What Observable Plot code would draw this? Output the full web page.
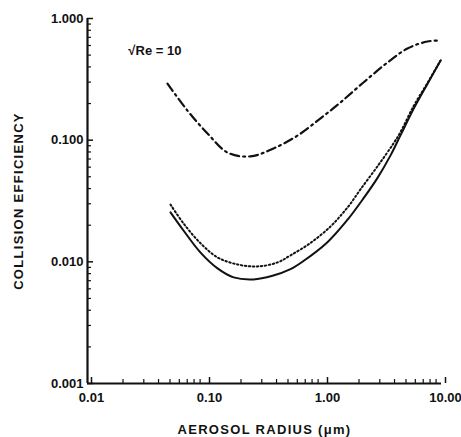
<!DOCTYPE html>
<html>
<head>
<meta charset="utf-8">
<script src="https://cdn.jsdelivr.net/npm/d3@7"></script>
<script src="https://cdn.jsdelivr.net/npm/@observablehq/plot@0.6"></script>
<style>
  html, body { margin: 0; padding: 0; background: #fff; }
  #chart svg { display: block; }
  #chart svg [aria-label="x-axis label"] text,
  #chart svg [aria-label="y-axis label"] text { letter-spacing: 1.3px; }
</style>
</head>
<body>
<div id="chart"></div>
<script>
// Dash-dot curve (√Re = 10)
const dashDotX = [0.0476, 0.0703, 0.104, 0.154, 0.24, 0.377, 0.602, 0.944, 1.39, 2.18, 3.49, 5.15, 7.6, 9.8];
const dashDotY = [0.292, 0.175, 0.1135, 0.079, 0.0735, 0.0855, 0.109, 0.151, 0.204, 0.298, 0.435, 0.567, 0.647, 0.66];
// Dotted curve
const dottedX = [0.0505, 0.0651, 0.0908, 0.1265, 0.1866, 0.276, 0.408, 0.525, 0.776, 1.146, 1.45, 1.69, 2.06, 2.87, 3.92, 4.5, 5.79, 7.6, 9.82];
const dottedY = [0.0296, 0.0207, 0.0142, 0.01087, 0.00952, 0.00917, 0.00989, 0.0113, 0.0143, 0.0195, 0.025, 0.03, 0.0395, 0.061, 0.094, 0.117, 0.19, 0.295, 0.452];
// Solid curve
const solidX = [0.0505, 0.0651, 0.0908, 0.1265, 0.173, 0.255, 0.37, 0.525, 0.676, 1.08, 1.6, 2.18, 2.87, 3.7, 4.5, 5.79, 7.6, 9.82];
const solidY = [0.0255, 0.0181, 0.0119, 0.00883, 0.00745, 0.00717, 0.00768, 0.0087, 0.01015, 0.0145, 0.0222, 0.0332, 0.049, 0.075, 0.11, 0.18, 0.29, 0.452];

const xTicks = [0.01, 0.1, 1, 10];
const yTicks = [0.001, 0.01, 0.1, 1];
const xMinor = [0.02,0.03,0.04,0.05,0.06,0.07,0.08,0.09,0.2,0.3,0.4,0.5,0.6,0.7,0.8,0.9,2,3,4,5,6,7,8,9];
const yMinor = [0.002,0.003,0.004,0.005,0.006,0.007,0.008,0.009,0.02,0.03,0.04,0.05,0.06,0.07,0.08,0.09,0.2,0.3,0.4,0.5,0.6,0.7,0.8,0.9];
const annotation = [{x: 0.0222, y: 0.546, text: "√Re = 10"}];
const xLabel = "AEROSOL RADIUS (μm)";
const yLabel = "COLLISION EFFICIENCY";

const toRows = (xs, ys) => xs.map((x, i) => ({x, y: ys[i]}));
const dashDot = toRows(dashDotX, dashDotY);
const dotted = toRows(dottedX, dottedY);
const solid = toRows(solidX, solidY);

const chart = Plot.plot({
  width: 461,
  height: 437,
  marginLeft: 87,
  marginRight: 20,
  marginTop: 18,
  marginBottom: 54,
  style: {fontFamily: "'Liberation Sans', Arial, sans-serif", fontSize: "13px", fontWeight: "bold", color: "#111", background: "#fff"},
  x: {type: "log", domain: [0.01, 10]},
  y: {type: "log", domain: [0.001, 1]},
  marks: [
    Plot.axisX(xTicks, {tickSize: -6, tickPadding: 15, dx: 4, tickFormat: d3.format(".2f"), label: xLabel, labelAnchor: "center", labelOffset: 50, labelArrow: "none", strokeWidth: 1.5}),
    Plot.axisX(xMinor, {tickSize: -4, tickFormat: () => "", label: null, strokeWidth: 1.2}),
    Plot.axisY(yTicks, {tickSize: -6, tickPadding: 10, tickFormat: d3.format(".3f"), label: yLabel, labelAnchor: "center", labelOffset: 74, labelArrow: "none", strokeWidth: 1.5}),
    Plot.axisY(yMinor, {tickSize: -4, tickFormat: () => "", label: null, strokeWidth: 1.2}),
    Plot.ruleX([0.01], {strokeWidth: 2.2}),
    Plot.ruleY([0.001], {strokeWidth: 2.2}),
    Plot.line(dashDot, {x: "x", y: "y", curve: "catmull-rom", stroke: "#111", strokeWidth: 2.2, strokeDasharray: "9,4,2,4"}),
    Plot.line(dotted, {x: "x", y: "y", curve: "catmull-rom", stroke: "#111", strokeWidth: 2, strokeDasharray: "1.5,2.5"}),
    Plot.line(solid, {x: "x", y: "y", curve: "catmull-rom", stroke: "#111", strokeWidth: 2}),
    Plot.text(annotation, {x: "x", y: "y", text: "text", textAnchor: "start", fontSize: 13, fontWeight: "bold"})
  ]
});
document.getElementById("chart").appendChild(chart);
</script>
</body>
</html>
